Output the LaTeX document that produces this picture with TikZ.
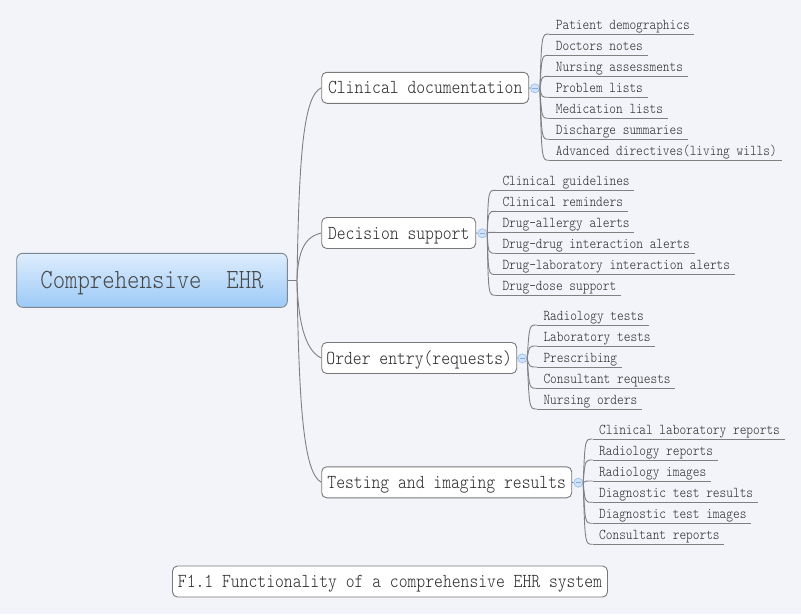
\documentclass[tikz,border=0pt]{standalone}
\usepackage{fontspec}
\newfontfamily\mm{lmmonolt10-regular.otf}[FakeStretch=0.85]
\usetikzlibrary{calc}
\definecolor{bg}{RGB}{242,244,249}
\definecolor{txt}{RGB}{40,40,40}
\definecolor{conncol}{RGB}{128,128,128}
\definecolor{boxborder}{RGB}{120,120,120}
\definecolor{rootA}{RGB}{222,237,253}
\definecolor{rootB}{RGB}{156,202,247}
\definecolor{rootborder}{RGB}{125,135,145}
\definecolor{roottext}{RGB}{72,72,72}
\definecolor{togfill}{RGB}{210,226,251}
\definecolor{togdraw}{RGB}{160,194,240}
\definecolor{togminus}{RGB}{130,170,228}
\tikzset{
  rootbox/.style={draw=rootborder, line width=0.9pt, rounded corners=6pt,
    top color=rootA, bottom color=rootB, minimum width=270.6pt, minimum height=54pt,
    inner sep=0pt, font=\mm\fontsize{27.8}{30}\selectfont, text=roottext,
    text height=17pt, text depth=0pt},
  mainbox/.style={draw=boxborder, line width=0.9pt, fill=white, rounded corners=5pt,
    minimum height=31pt, inner sep=0pt, font=\mm\fontsize{19.8}{22}\selectfont,
    text=txt, text height=12.1pt, text depth=0pt},
  leaf/.style={inner sep=0pt, font=\mm\fontsize{15}{17}\selectfont, text=txt},
  conn/.style={draw=conncol, line width=0.9pt},
  uline/.style={draw=conncol, line width=0.9pt},
  tog/.style={circle, minimum size=9pt, inner sep=0pt, fill=togfill, draw=togdraw, line width=0.8pt,
    path picture={\draw[togminus, line width=0.8pt] ($(path picture bounding box.center)+(-2.6,0)$) -- ++(5.2,0);}},
}
\newcommand\leaf[5]{%
  \node[leaf, anchor=base west] (#1) at (#3,#4-4.7) {#5};
  \coordinate (#1l) at (#3-6.5,#4);
  \path (#1.east |- #1l) ++(4.5,0) coordinate (#1r);
  \draw[uline] (#1l) -- (#1r);
  \draw[conn] (#2.east) .. controls (#3-14,#4) .. (#1l);
}
\begin{document}
\begin{tikzpicture}[x=1pt,y=-1pt]
\useasboundingbox (0,0) rectangle (801,614);
\fill[bg] (0,0) rectangle (801,614);

% root and main nodes
\node[rootbox] (root) at (152,280.3) {Comprehensive\ \ EHR};
\node[mainbox, minimum width=207pt] (cd) at (425.2,87.8) {Clinical documentation};
\node[mainbox, minimum width=154pt] (ds) at (398.7,233) {Decision support};
\node[mainbox, minimum width=195pt] (oe) at (419.2,358) {Order entry(requests)};
\node[mainbox, minimum width=250pt] (ti) at (446.7,482.3) {Testing and imaging results};
\node[mainbox, minimum width=435pt] (cap) at (390,581.5) {F1.1 Functionality of a comprehensive EHR system};

% root connectors
\coordinate (rb) at (297,280.3);
\draw[conn] (root.east) -- (rb);
\draw[conn] (rb) .. controls (299,150) and (304,96) .. (cd.west);
\draw[conn] (rb) .. controls (298,252) and (304,237) .. (ds.west);
\draw[conn] (rb) .. controls (298,318) and (304,350) .. (oe.west);
\draw[conn] (rb) .. controls (299,410) and (304,473) .. (ti.west);

% toggles
\node[tog] (cdt) at (535,88.3) {};
\node[tog] (dst) at (482.3,233.3) {};
\node[tog] (oet) at (522.3,358.3) {};
\node[tog] (tit) at (578.3,482.7) {};
\draw[conn] (cd.east) -- (cdt.west);
\draw[conn] (ds.east) -- (dst.west);
\draw[conn] (oe.east) -- (oet.west);
\draw[conn] (ti.east) -- (tit.west);

% clinical documentation
\leaf{c1}{cdt}{555.7}{34}{Patient demographics}
\leaf{c2}{cdt}{555.7}{55.3}{Doctors notes}
\leaf{c3}{cdt}{555.7}{76.3}{Nursing assessments}
\leaf{c4}{cdt}{555.7}{97.3}{Problem lists}
\leaf{c5}{cdt}{555.7}{118.3}{Medication lists}
\leaf{c6}{cdt}{555.7}{139.3}{Discharge summaries}
\leaf{c7}{cdt}{555.7}{160.3}{Advanced directives(living wills)}

% decision support
\leaf{d1}{dst}{502.3}{190.3}{Clinical guidelines}
\leaf{d2}{dst}{502.3}{211.3}{Clinical reminders}
\leaf{d3}{dst}{502.3}{232.3}{Drug-allergy alerts}
\leaf{d4}{dst}{502.3}{253.3}{Drug-drug interaction alerts}
\leaf{d5}{dst}{502.3}{274.5}{Drug-laboratory interaction alerts}
\leaf{d6}{dst}{502.3}{295.3}{Drug-dose support}

% order entry
\leaf{o1}{oet}{543.3}{325}{Radiology tests}
\leaf{o2}{oet}{543.3}{346}{Laboratory tests}
\leaf{o3}{oet}{543.3}{367}{Prescribing}
\leaf{o4}{oet}{543.3}{388.3}{Consultant requests}
\leaf{o5}{oet}{543.3}{409}{Nursing orders}

% testing and imaging
\leaf{t1}{tit}{599}{439}{Clinical laboratory reports}
\leaf{t2}{tit}{599}{460}{Radiology reports}
\leaf{t3}{tit}{599}{481}{Radiology images}
\leaf{t4}{tit}{599}{502.3}{Diagnostic test results}
\leaf{t5}{tit}{599}{523.3}{Diagnostic test images}
\leaf{t6}{tit}{599}{544.3}{Consultant reports}
\end{tikzpicture}
\end{document}
